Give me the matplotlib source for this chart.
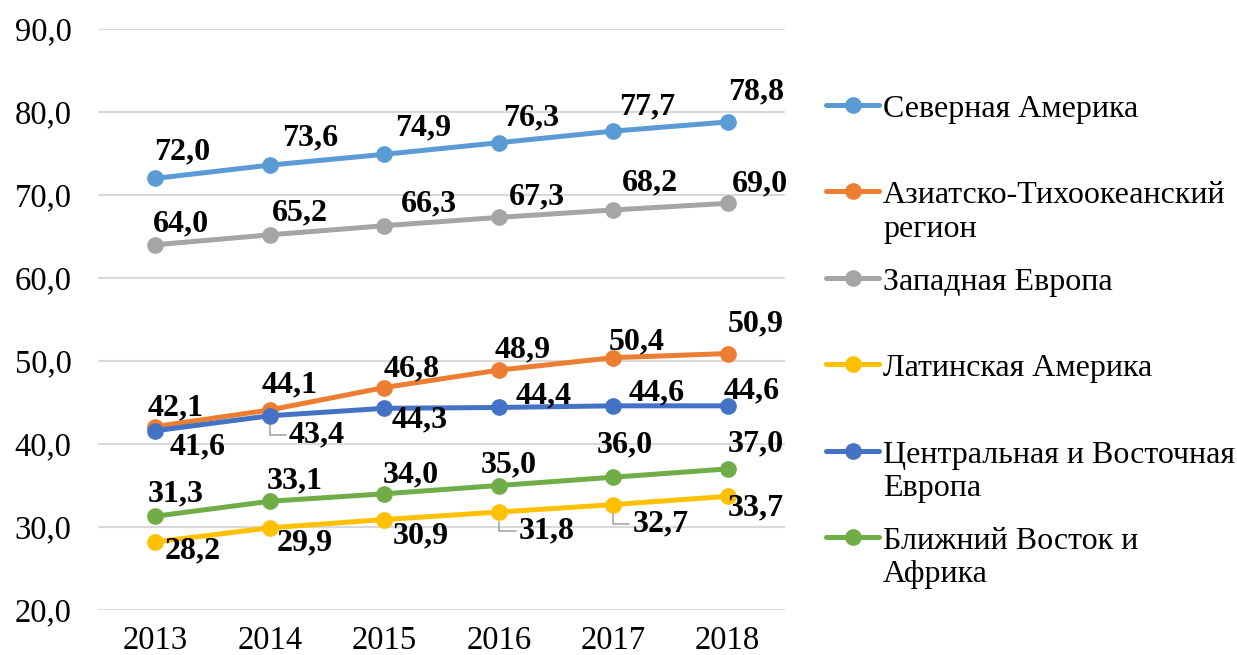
import matplotlib.pyplot as plt
from matplotlib.lines import Line2D
from matplotlib.ticker import FuncFormatter

# data
years = ['2013', '2014', '2015', '2016', '2017', '2018']
north_america = [72.0, 73.6, 74.9, 76.3, 77.7, 78.8]
asia_pacific = [42.1, 44.1, 46.8, 48.9, 50.4, 50.9]
western_europe = [64.0, 65.2, 66.3, 67.3, 68.2, 69.0]
latin_america = [28.2, 29.9, 30.9, 31.8, 32.7, 33.7]
central_east_europe = [41.6, 43.4, 44.3, 44.4, 44.6, 44.6]
middle_east_africa = [31.3, 33.1, 34.0, 35.0, 36.0, 37.0]

labels = ['Северная Америка', 'Азиатско-Тихоокеанский\nрегион', 'Западная Европа',
          'Латинская Америка', 'Центральная и Восточная\nЕвропа', 'Ближний Восток и\nАфрика']
colors = ['#5B9BD5', '#ED7D31', '#A5A5A5', '#FFC000', '#4472C4', '#70AD47']
series = [north_america, asia_pacific, western_europe, latin_america,
          central_east_europe, middle_east_africa]

# label offsets in pixels (dx, dy), dy positive = down in the picture
offsets = [
    [(27, -26), (40, -27), (39, -26), (32, -25), (34, -24), (28, -30)],
    [(20, -19), (20, -25), (27, -19), (24, -20), (23, -16), (28, -30)],
    [(26, -21), (30, -22), (45, -22), (38, -21), (37, -27), (32, -19)],
    [(37, 9), (35, 15), (36, 16), (48, 19), (47, 19), (28, 12)],
    [(42, 16), (47, 19), (35, 12), (45, -12), (43, -13), (24, -15)],
    [(20, -22), (25, -20), (27, -19), (10, -21), (12, -32), (28, -25)],
]
leaders = {(3, 3), (3, 4), (4, 1)}

plt.rcParams['font.family'] = ['Liberation Serif', 'DejaVu Serif']

W, H = 1237, 655
fig = plt.figure(figsize=(W / 100, H / 100), dpi=100)
ax = fig.add_axes([98 / W, 1 - 610 / H, (785 - 98) / W, (610 - 29) / H])

x = list(range(len(years)))
for i, (vals, col) in enumerate(zip(series, colors)):
    ax.plot(x, vals, '-o', color=col, lw=3.6, ms=11, solid_capstyle='round', zorder=3)
    for j, v in enumerate(vals):
        dx, dy = offsets[i][j]
        kw = {}
        if (i, j) in leaders:
            kw['arrowprops'] = dict(arrowstyle='-', color='#a6a6a6', lw=1.2,
                                    connectionstyle='angle,angleA=180,angleB=90,rad=0',
                                    shrinkA=0, shrinkB=7)
        ax.annotate(f'{v:.1f}'.replace('.', ','), (j, v), xytext=(dx, -dy),
                    textcoords='offset pixels', ha='center', va='center',
                    fontsize=23, fontweight='bold', color='black', zorder=4, **kw)

ax.set_xlim(-0.5, 5.5)
ax.set_ylim(20, 90)
ax.set_yticks(range(20, 91, 10))
ax.yaxis.set_major_formatter(FuncFormatter(lambda v, p: f'{v:.1f}'.replace('.', ',')))
ax.set_xticks(x)
ax.set_xticklabels(years)
ax.tick_params(length=0, labelsize=23.5)
ax.tick_params(axis='y', pad=19)
ax.tick_params(axis='x', pad=11)
ax.grid(axis='y', color='#d9d9d9', lw=1.5)
ax.set_axisbelow(True)
for s in ax.spines.values():
    s.set_visible(False)

# legend drawn by hand
for i, (lab, col) in enumerate(zip(labels, colors)):
    y = 1 - (105 + 86.4 * i) / H
    fig.add_artist(Line2D([826 / W, 879 / W], [y, y], color=col, lw=3.6,
                          solid_capstyle='round', transform=fig.transFigure))
    fig.add_artist(Line2D([853 / W], [y], marker='o', color=col, ms=11,
                          transform=fig.transFigure))
    fig.text(883 / W, y + 10 / H, lab, ha='left', va='top', fontsize=23,
             linespacing=1.2)

fig.savefig('out.png', dpi=100)
